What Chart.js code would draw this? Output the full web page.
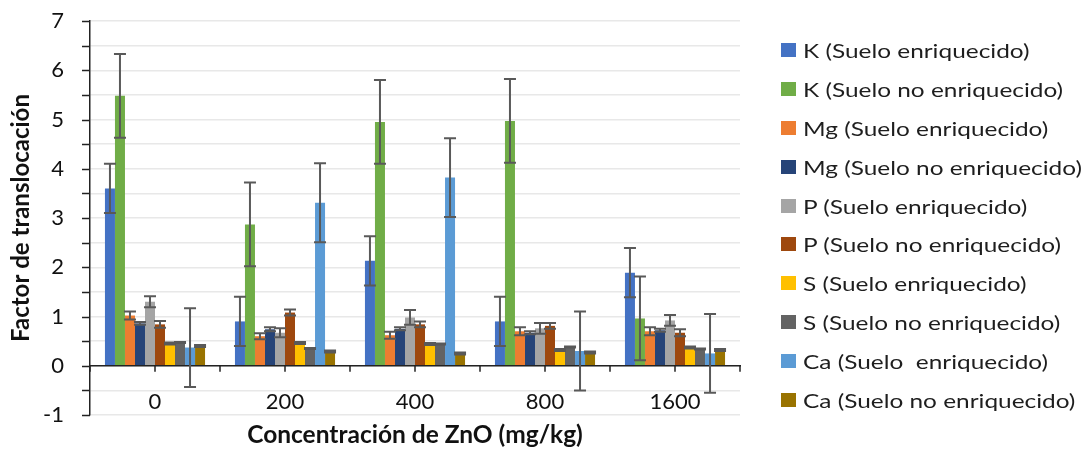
<!DOCTYPE html>
<html><head><meta charset="utf-8">
<script src="https://cdn.jsdelivr.net/npm/chart.js@4/dist/chart.umd.min.js"></script>
<style>
html,body{margin:0;padding:0;background:#fff}
#wrap{position:relative;width:1091px;height:450px}
#legend{position:absolute;left:781px;top:31px;margin:0;padding:0;list-style:none;font-family:Lato;font-size:20px;color:#1e1e1e}
#legend li{height:38.8px;display:flex;align-items:center;white-space:nowrap}
#legend .box{width:15px;height:14px;margin-right:7px;flex:none}
#legend .txt{display:inline-block;white-space:pre;transform:scaleX(1.22);transform-origin:0 50%}
</style>
</head><body>
<div id="wrap">
<canvas id="c" width="1091" height="450"></canvas>
<ul id="legend"></ul>
</div>
<script>
const categories = ['0', '200', '400', '800', '1600'];
const seriesNames = [
  'K (Suelo enriquecido)', 'K (Suelo no enriquecido)',
  'Mg (Suelo enriquecido)', 'Mg (Suelo no enriquecido)',
  'P (Suelo enriquecido)', 'P (Suelo no enriquecido)',
  'S (Suelo enriquecido)', 'S (Suelo no enriquecido)',
  'Ca (Suelo  enriquecido)', 'Ca (Suelo no enriquecido)'
];
const seriesColors = ['#4472C4', '#70AD47', '#ED7D31', '#264478', '#A5A5A5',
                      '#9E480E', '#FFC000', '#636363', '#5B9BD5', '#997300'];

const kEnr     = [3.60, 0.90, 2.13, 0.90, 1.89];
const kEnrErr  = [0.50, 0.50, 0.50, 0.50, 0.50];
const kNo      = [5.48, 2.87, 4.95, 4.97, 0.96];
const kNoErr   = [0.85, 0.85, 0.85, 0.85, 0.85];
const mgEnr    = [1.02, 0.60, 0.62, 0.70, 0.70];
const mgEnrErr = [0.08, 0.06, 0.07, 0.08, 0.08];
const mgNo     = [0.86, 0.74, 0.75, 0.67, 0.72];
const mgNoErr  = [0.03, 0.04, 0.03, 0.03, 0.03];
const pEnr     = [1.30, 0.67, 0.98, 0.76, 0.92];
const pEnrErr  = [0.11, 0.09, 0.15, 0.11, 0.11];
const pNo      = [0.84, 1.08, 0.84, 0.81, 0.67];
const pNoErr   = [0.07, 0.06, 0.06, 0.06, 0.07];
const sEnr     = [0.45, 0.46, 0.44, 0.32, 0.37];
const sEnrErr  = [0.02, 0.02, 0.02, 0.02, 0.02];
const sNo      = [0.47, 0.35, 0.44, 0.38, 0.34];
const sNoErr   = [0.01, 0.01, 0.01, 0.01, 0.01];
const caEnr    = [0.37, 3.31, 3.82, 0.30, 0.25];
const caEnrErr = [0.80, 0.80, 0.80, 0.80, 0.80];
const caNo     = [0.40, 0.29, 0.25, 0.27, 0.32];
const caNoErr  = [0.02, 0.02, 0.02, 0.02, 0.02];

const seriesValues = [kEnr, kNo, mgEnr, mgNo, pEnr, pNo, sEnr, sNo, caEnr, caNo];
const seriesErrors = [kEnrErr, kNoErr, mgEnrErr, mgNoErr, pEnrErr, pNoErr, sEnrErr, sNoErr, caEnrErr, caNoErr];

const yTickMin = -1, yTickMax = 7, yTickStep = 0.5;

const FONT = 'Lato';
const AXIS_COLOR = '#222';

const errorBarPlugin = {
  id: 'errorBars',
  afterDatasetsDraw(chart) {
    const ctx = chart.ctx;
    const ys = chart.scales.y;
    ctx.save();
    ctx.strokeStyle = '#595959';
    ctx.lineWidth = 2;
    chart.data.datasets.forEach((ds, i) => {
      const meta = chart.getDatasetMeta(i);
      meta.data.forEach((bar, j) => {
        const v = ds.data[j], e = seriesErrors[i][j];
        const x = bar.x;
        const yt = ys.getPixelForValue(v + e), yb = ys.getPixelForValue(v - e);
        const hw = 6;
        ctx.beginPath();
        ctx.moveTo(x, yt); ctx.lineTo(x, yb);
        ctx.moveTo(x - hw, yt); ctx.lineTo(x + hw, yt);
        ctx.moveTo(x - hw, yb); ctx.lineTo(x + hw, yb);
        ctx.stroke();
      });
    });
    ctx.restore();
  }
};

// short outside tick marks on both axes
const tickMarkPlugin = {
  id: 'tickMarks',
  afterDatasetsDraw(chart) {
    const ctx = chart.ctx;
    const xs = chart.scales.x, ys = chart.scales.y;
    const y0 = ys.getPixelForValue(0);
    const xAxis = ys.right;
    const half = (xs.getPixelForValue(1) - xs.getPixelForValue(0)) / 2;
    ctx.save();
    ctx.strokeStyle = AXIS_COLOR;
    ctx.lineWidth = 1.5;
    ctx.beginPath();
    for (let k = 0; k <= categories.length * 2; k++) {
      const x = Math.round(xs.getPixelForValue(0) - half + k * half);
      ctx.moveTo(x, y0); ctx.lineTo(x, y0 + 6);
    }
    ys.ticks.forEach((t) => {
      const y = Math.round(ys.getPixelForValue(t.value)) + 0.5;
      ctx.moveTo(xAxis - 8, y); ctx.lineTo(xAxis, y);
    });
    ctx.stroke();
    ctx.restore();
  }
};

const chart = new Chart(document.getElementById('c'), {
  type: 'bar',
  data: {
    labels: categories,
    datasets: seriesNames.map((n, i) => ({
      label: n,
      data: seriesValues[i],
      backgroundColor: seriesColors[i],
      borderWidth: 0,
      categoryPercentage: 0.77,
      barPercentage: 1.0
    }))
  },
  options: {
    responsive: false,
    animation: false,
    devicePixelRatio: 1,
    layout: { padding: { left: 7, top: 21, right: 351, bottom: 0 } },
    plugins: {
      legend: { display: false },
      tooltip: { enabled: false }
    },
    scales: {
      x: {
        type: 'category',
        position: { y: 0 },
        grid: { display: false, drawTicks: false },
        border: { display: true, color: AXIS_COLOR, width: 1.5 },
        ticks: { color: '#111', padding: 23, font: { family: FONT, size: 22 } }
      },
      x2: {
        type: 'category',
        position: 'bottom',
        grid: { display: false, drawTicks: false },
        border: { display: false },
        ticks: { display: false },
        title: {
          display: true, text: 'Concentración de ZnO (mg/kg)',
          color: '#111', padding: { top: 0, bottom: 0 },
          font: { family: FONT, size: 24.5, weight: 'bold' }
        },
        afterFit: (s) => { s.height = 35; }
      },
      y: {
        min: yTickMin, max: yTickMax,
        grid: { color: '#E8E8E8', lineWidth: 1.5, tickColor: 'rgba(0,0,0,0)', tickLength: 22 },
        border: { display: true, color: AXIS_COLOR, width: 1.5 },
        ticks: {
          stepSize: yTickStep, autoSkip: false, padding: 4,
          color: '#111', font: { family: FONT, size: 22 },
          callback: (v) => Number.isInteger(v) ? String(v) : ''
        },
        title: {
          display: true, text: 'Factor de translocación',
          color: '#111', padding: 0,
          font: { family: FONT, size: 24, weight: 'bold' }
        },
        afterFit: (s) => { s.width = 83; }
      }
    }
  },
  plugins: [errorBarPlugin, tickMarkPlugin]
});

// HTML legend built from the chart's own legend items
const ul = document.getElementById('legend');
Chart.defaults.plugins.legend.labels.generateLabels(chart).forEach((item) => {
  const li = document.createElement('li');
  const box = document.createElement('span');
  box.className = 'box';
  box.style.background = item.fillStyle;
  const txt = document.createElement('span');
  txt.className = 'txt';
  txt.textContent = item.text;
  li.appendChild(box); li.appendChild(txt);
  ul.appendChild(li);
});
</script>
</body></html>
